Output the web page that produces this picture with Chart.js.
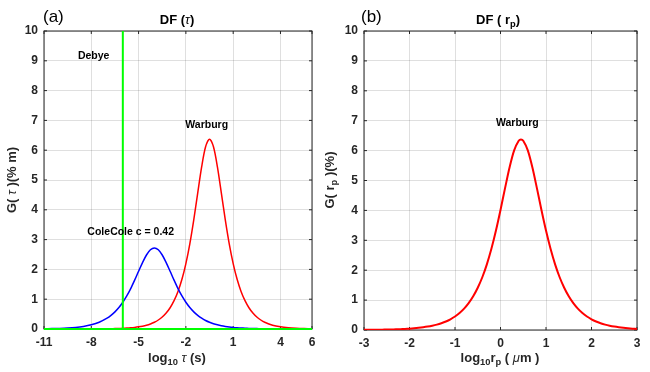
<!DOCTYPE html>
<html>
<head>
<meta charset="utf-8">
<script src="https://cdn.jsdelivr.net/npm/chart.js@4.4.0/dist/chart.umd.min.js"></script>
<style>
  body { margin: 0; background: #fff; }
  #wrap { position: relative; width: 650px; height: 372px; }
  .panel { position: absolute; top: 0; width: 325px; height: 372px; }
</style>
</head>
<body>
<div id="wrap">
  <div class="panel" style="left:0"><canvas id="chartA" width="325" height="372"></canvas></div>
  <div class="panel" style="left:325px"><canvas id="chartB" width="325" height="372"></canvas></div>
</div>
<script>
// panel (a): log10 tau axis
const tauX = [-11,-10.5,-10,-9.5,-9,-8.5,-8,-7.5,-7,
  -6.75,-6.5,-6.25,-6,-5.75,-5.5,-5.25,-5,-4.75,-4.5,-4.25,-4,-3.75,-3.5,-3.25,-3,-2.75,-2.5,-2.25,-2,
  -1.75,-1.5,-1.25,-1,-0.75,-0.5,-0.25,0,0.25,0.5,0.75,1,1.25,1.5,1.75,2,2.25,2.5,2.75,3,
  3.5,4,4.5,5,5.5,6];
const coleCole = [0.0078,0.0126,0.0205,0.0332,0.0537,0.087,0.1405,0.226,0.362,
  0.457,0.575,0.721,0.899,1.111,1.357,1.639,1.939,2.229,2.483,2.658,2.72,
  2.658,2.483,2.229,1.939,1.639,1.357,1.111,0.899,0.721,0.575,0.457,0.362,0.286,0.226,0.178,0.1405,
  0.1105,0.087,0.0683,0.0537,0.0423,0.0332,0.0261,0.0205,0.0161,0.0126,0.0099,0.0078,
  0.0048,0.003,0.0018,0.0011,0.0007,0.0004];
const warburgTau = [0.0001,0.0001,0.0002,0.0004,0.0007,0.0013,0.0023,0.004,0.0072,
  0.0096,0.0127,0.017,0.0227,0.0302,0.0403,0.0537,0.0717,0.0955,0.127,0.17,0.226,0.302,0.402,0.536,
  0.714,0.95,1.261,1.669,2.196,2.86,3.662,4.562,5.441,6.115,6.37,
  6.115,5.441,4.562,3.662,2.86,2.196,1.669,1.261,0.95,0.714,0.536,0.402,0.302,0.226,
  0.127,0.0717,0.0403,0.0227,0.0127,0.0072];
const debyeX = [-11,-6,-6,-6,6];
const debyeY = [0,0,10,0,0];
const tauTicks = [-11,-8,-5,-2,1,4,6];

// panel (b): log10 r_p axis
const rpX = [-3,-2.9,-2.8,-2.7,-2.6,-2.5,-2.4,-2.3,-2.2,-2.1,
  -2,-1.9,-1.8,-1.7,-1.6,-1.5,-1.4,-1.3,-1.2,-1.1,
  -1,-0.9,-0.8,-0.7,-0.6,-0.5,-0.4,-0.3,-0.2,-0.1,
  0,0.1,0.2,0.3,0.4,0.45,0.5,0.6,0.7,0.8,0.9,1,1.1,1.2,1.3,1.4,
  1.5,1.6,1.7,1.8,1.9,2,2.1,2.2,2.3,2.4,2.5,2.6,2.7,2.8,2.9,3];
const warburgRp = [0.0045,0.0057,0.0072,0.009,0.0114,0.0143,0.018,0.0227,0.0285,0.0359,
  0.0452,0.0569,0.0717,0.0902,0.1135,0.143,0.18,0.227,0.285,0.359,
  0.451,0.568,0.714,0.897,1.127,1.412,1.764,2.196,2.716,3.326,
  4.015,4.744,5.443,6.008,6.328,6.37,6.328,6.008,5.443,4.744,4.015,3.326,2.716,2.196,1.764,1.412,
  1.127,0.897,0.714,0.568,0.451,0.359,0.285,0.227,0.18,0.143,0.1135,0.0902,0.0717,0.0569,0.0452,0.0359];
const rpTicks = [-3,-2,-1,0,1,2,3];

const yTicks = [0,1,2,3,4,5,6,7,8,9,10];

const labelsA = [
  { text: 'Debye', x: -7.85, y: 9.15 },
  { text: 'Warburg', x: -0.68, y: 6.84 },
  { text: 'ColeCole c = 0.42', x: -5.5, y: 3.25 }
];
const labelsB = [
  { text: 'Warburg', x: 0.37, y: 6.92 }
];

const FONT = '"Liberation Sans", Arial, sans-serif';
const INK = '#262626';

function pts(xs, ys) { return xs.map((x, i) => ({ x: x, y: ys[i] })); }

// draw text made of pieces, some of them subscripts or greek
function rich(ctx, segs, x, y, size, rot) {
  ctx.save();
  ctx.translate(x, y);
  if (rot) ctx.rotate(rot);
  ctx.textBaseline = 'middle';
  ctx.textAlign = 'left';
  const fontOf = s => (s.normal ? '' : 'bold ') + (s.italic ? 'italic ' : '') +
    (s.sub ? size * 0.72 : size) + 'px ' + FONT;
  let w = 0;
  segs.forEach(s => { ctx.font = fontOf(s); w += ctx.measureText(s.t).width; });
  let cx = -w / 2;
  segs.forEach(s => {
    ctx.font = fontOf(s);
    ctx.fillText(s.t, cx, s.sub ? size * 0.35 : 0);
    cx += ctx.measureText(s.t).width;
  });
  ctx.restore();
}

const frame = {
  id: 'frame',
  beforeDatasetsDraw(chart) {
    const { ctx, chartArea: a, scales: { x, y } } = chart;
    ctx.save();
    ctx.strokeStyle = INK;
    ctx.lineWidth = 1;
    ctx.strokeRect(a.left, a.top, a.right - a.left, a.bottom - a.top);
    ctx.beginPath();
    x.ticks.forEach(t => {
      const px = x.getPixelForValue(t.value);
      ctx.moveTo(px, a.bottom); ctx.lineTo(px, a.bottom - 3);
      ctx.moveTo(px, a.top); ctx.lineTo(px, a.top + 3);
    });
    y.ticks.forEach(t => {
      const py = y.getPixelForValue(t.value);
      ctx.moveTo(a.left, py); ctx.lineTo(a.left + 3, py);
      ctx.moveTo(a.right, py); ctx.lineTo(a.right - 3, py);
    });
    ctx.stroke();
    ctx.restore();
  },
  afterDraw(chart, args, opts) {
    const { ctx, scales: { x, y } } = chart;
    ctx.save();
    ctx.fillStyle = '#000';
    ctx.font = 'bold 10.5px ' + FONT;
    ctx.textAlign = 'center';
    ctx.textBaseline = 'middle';
    opts.notes.forEach(n => ctx.fillText(n.text, x.getPixelForValue(n.x), y.getPixelForValue(n.y)));
    ctx.font = '17px ' + FONT;
    ctx.textAlign = 'left';
    ctx.fillText(opts.tag, opts.tagX, 17);
    ctx.restore();
    ctx.fillStyle = '#000';
    rich(ctx, opts.title, opts.titleX, 20, 13);
    ctx.fillStyle = INK;
    rich(ctx, opts.ylab, opts.ylabX, 180, 13, -Math.PI / 2);
    rich(ctx, opts.xlab, opts.xlabX, 358, 13);
  }
};

function axes(ticksX, yWidth, xHeight) {
  const tickFont = { family: FONT, size: 12, weight: 'bold' };
  return {
    x: {
      type: 'linear', min: ticksX[0], max: ticksX[ticksX.length - 1],
      afterBuildTicks: s => { s.ticks = ticksX.map(v => ({ value: v })); },
      afterFit: s => { s.height = xHeight; },
      grid: { color: 'rgba(38,38,38,0.15)', drawTicks: false },
      border: { display: false },
      ticks: { color: INK, font: tickFont, padding: 6, maxRotation: 0, autoSkip: false }
    },
    y: {
      type: 'linear', min: 0, max: 10,
      afterBuildTicks: s => { s.ticks = yTicks.map(v => ({ value: v })); },
      afterFit: s => { s.width = yWidth; },
      grid: { color: 'rgba(38,38,38,0.15)', drawTicks: false },
      border: { display: false },
      ticks: { color: INK, font: tickFont, padding: 6 }
    }
  };
}

const common = {
  responsive: false,
  animation: false,
  devicePixelRatio: 1,
  elements: { point: { radius: 0 }, line: { tension: 0.3 } },
  plugins: { legend: { display: false }, tooltip: { enabled: false } }
};

new Chart(document.getElementById('chartA'), {
  type: 'line',
  data: {
    datasets: [
      { label: 'Debye', data: pts(debyeX, debyeY), borderColor: '#00ff00', borderWidth: 2, tension: 0, clip: false },
      { label: 'ColeCole c = 0.42', data: pts(tauX, coleCole), borderColor: '#0000ff', borderWidth: 1.5 },
      { label: 'Warburg', data: pts(tauX, warburgTau), borderColor: '#ff0000', borderWidth: 1.5 }
    ]
  },
  options: Object.assign({}, common, {
    layout: { padding: { left: 0, top: 31, right: 13, bottom: 0 } },
    scales: axes(tauTicks, 44, 43),
    plugins: Object.assign({}, common.plugins, {
      frame: {
        notes: labelsA, tag: '(a)', tagX: 43,
        title: [{ t: 'DF (' }, { t: 'τ', italic: true, normal: true }, { t: ')' }], titleX: 177,
        ylab: [{ t: 'G( ' }, { t: 'τ', italic: true, normal: true }, { t: ' )(% m)' }], ylabX: 12,
        xlab: [{ t: 'log' }, { t: '10', sub: true }, { t: ' ' }, { t: 'τ', italic: true, normal: true }, { t: ' (s)' }], xlabX: 177
      }
    })
  }),
  plugins: [frame]
});

new Chart(document.getElementById('chartB'), {
  type: 'line',
  data: {
    datasets: [
      { label: 'Warburg', data: pts(rpX, warburgRp), borderColor: '#ff0000', borderWidth: 2 }
    ]
  },
  options: Object.assign({}, common, {
    layout: { padding: { left: 0, top: 31, right: 13, bottom: 0 } },
    scales: axes(rpTicks, 39, 42),
    plugins: Object.assign({}, common.plugins, {
      frame: {
        notes: labelsB, tag: '(b)', tagX: 36,
        title: [{ t: 'DF ( r' }, { t: 'p', sub: true }, { t: ')' }], titleX: 173,
        ylab: [{ t: 'G( r' }, { t: 'p', sub: true }, { t: ' )(%)' }], ylabX: 5,
        xlab: [{ t: 'log' }, { t: '10', sub: true }, { t: 'r' }, { t: 'p', sub: true }, { t: ' ( ' }, { t: 'μ', italic: true, normal: true }, { t: 'm )' }], xlabX: 175
      }
    })
  }),
  plugins: [frame]
});
</script>
</body>
</html>
